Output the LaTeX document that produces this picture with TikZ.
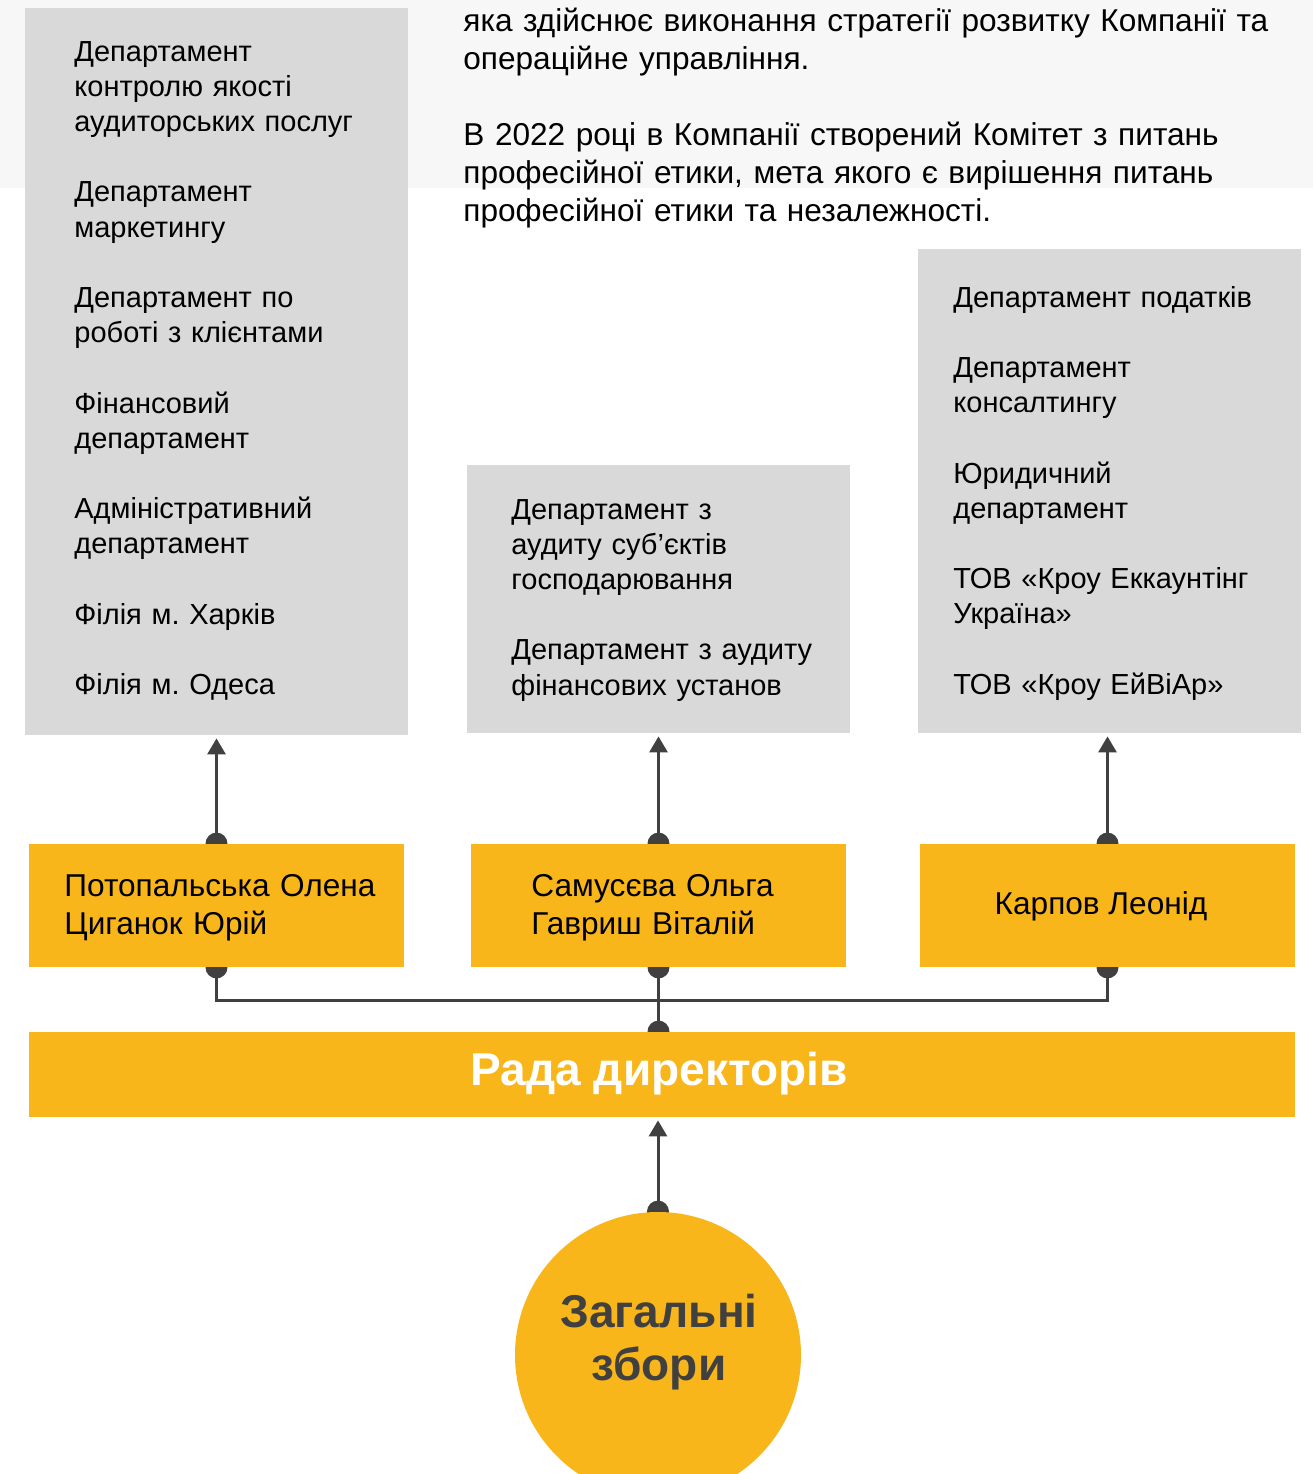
\documentclass[tikz,border=0pt]{standalone}
\usepackage{fontspec}
\setmainfont{Liberation Sans}
\usetikzlibrary{arrows.meta}
\frenchspacing

\definecolor{kyellow}{HTML}{F8B61A}
\definecolor{kgrey}{HTML}{D9D9D9}
\definecolor{kband}{HTML}{F7F7F7}
\definecolor{kdark}{HTML}{404040}

\pgfdeclarelayer{back}
\pgfdeclarelayer{lines}
\pgfsetlayers{back,lines,main}

\begin{document}
\begin{tikzpicture}[x=0.5pt,y=-0.5pt,
    box/.style={rectangle,fill=kgrey,inner sep=0pt,minimum width=191.5pt},
    head/.style={rectangle,fill=kyellow,inner sep=0pt,minimum width=187.5pt,minimum height=61.5pt},
    deptext/.style={anchor=base west,inner sep=0pt,text width=180pt,align=left,
      font=\fontsize{14.5}{17.6}\selectfont},
    headtext/.style={anchor=base west,inner sep=0pt,text width=180pt,align=left,
      font=\fontsize{15.8}{19}\selectfont},
    link/.style={draw=kdark,line width=1.5pt},
    up/.style={link,-{Triangle[width=9pt,length=8pt]},shorten >=1.5pt},
    dot/.style={fill=kdark}]

  \useasboundingbox (0,0) rectangle (1313,1474);
  \clip (0,0) rectangle (1313,1474);

  \begin{pgfonlayer}{back}
    \fill[kband] (0,0) rectangle (1313,188);
  \end{pgfonlayer}

  % departments
  \node[box,minimum height=363.5pt] (d1) at (216.5,371.5) {};
  \node[box,minimum height=134pt]   (d2) at (658.5,599) {};
  \node[box,minimum height=242pt]   (d3) at (1109.5,491) {};

  % directors
  \node[head] (h1) at (216.5,905.5) {};
  \node[head] (h2) at (658.5,905.5) {};
  \node[head] (h3) at (1107.5,905.5) {};

  \node[fill=kyellow,inner sep=0pt,minimum width=633pt,minimum height=42.5pt] (rada) at (662,1074.5) {};
  \node[circle,fill=kyellow,inner sep=0pt,minimum size=143pt] (zbory) at (658,1355) {};

  \node[anchor=base west,inner sep=0pt,text width=420pt,align=left,
    font=\fontsize{15.8}{19}\selectfont] (intro) at (463,31.5)
    {яка здійснює виконання стратегії розвитку Компанії та\\
     операційне управління.\\[19pt]
     В 2022 році в Компанії створений Комітет з питань\\
     професійної етики, мета якого є вирішення питань\\
     професійної етики та незалежності.};

  \node[deptext] (t1) at (74,61)
    {Департамент\\контролю якості\\аудиторських послуг\\[17.6pt]
     Департамент\\маркетингу\\[17.6pt]
     Департамент по\\роботі з клієнтами\\[17.6pt]
     Фінансовий\\департамент\\[17.6pt]
     Адміністративний\\департамент\\[17.6pt]
     Філія м. Харків\\[17.6pt]
     Філія м. Одеса};
  \node[deptext] (t2) at (511,519)
    {Департамент з\\аудиту суб’єктів\\господарювання\\[17.6pt]
     Департамент з аудиту\\фінансових установ};
  \node[deptext] (t3) at (953,307)
    {Департамент податків\\[17.6pt]
     Департамент\\консалтингу\\[17.6pt]
     Юридичний\\департамент\\[17.6pt]
     ТОВ «Кроу Еккаунтінг\\Україна»\\[17.6pt]
     ТОВ «Кроу ЕйВіАр»};

  \node[headtext] (n1) at (64,896) {Потопальська Олена\\Циганок Юрій};
  \node[headtext] (n2) at (531,896) {Самусєва Ольга\\Гавриш Віталій};
  \node[anchor=base,inner sep=0pt,font=\fontsize{15.8}{19}\selectfont] (n3) at (1101,914.5) {Карпов Леонід};

  \node[anchor=base,inner sep=0pt,text=white,font=\fontsize{23}{27}\selectfont\bfseries] (nr) at (659,1085.5) {Рада директорів};
  \node[anchor=base,inner sep=0pt,text width=160pt,align=center,text=kdark,
    font=\fontsize{23}{26.5}\selectfont\bfseries] (nz) at (659,1327) {Загальні\\збори};

  % connectors
  \begin{pgfonlayer}{lines}
    \foreach \i in {1,2,3} {
      \draw[up] (h\i.north) -- (h\i.north |- d\i.south);
      \fill[dot] (h\i.north) circle (5.5pt);
      \fill[dot] (h\i.south) circle (5.5pt);
    }
    \coordinate (hub) at (658.5,1000);
    \draw[link] (h1.south) |- (hub) -| (h3.south);
    \draw[link] (h2.south) -- (h2.south |- rada.north);
    \fill[dot] (h2.south |- rada.north) circle (5.5pt);
    \draw[up] (zbory.north) -- (zbory.north |- rada.south);
    \fill[dot] (zbory.north) circle (5.5pt);
  \end{pgfonlayer}

\end{tikzpicture}
\end{document}
